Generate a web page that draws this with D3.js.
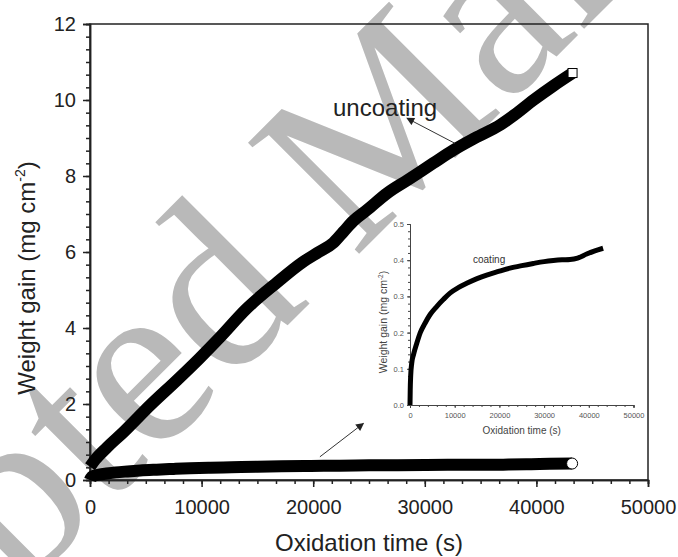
<!DOCTYPE html>
<html>
<head>
<meta charset="utf-8">
<style>
  body { margin: 0; background: #fff; }
  svg { display: block; font-family: "Liberation Sans", Arial, sans-serif; }
</style>
</head>
<body>
<svg width="678" height="557"></svg>
<script src="https://d3js.org/d3.v7.min.js"></script>
<script>

// uncoated sample, weight gain vs oxidation time
var uncoatTime = [0, 450, 1500, 3000, 5400, 7800, 9800, 11660, 14000, 16770, 19000, 20500, 21800,
                  22700, 23600, 24800, 26640, 28500, 30770, 32560, 34500, 36780, 38000, 39740, 41500, 43240];
var uncoatGain = [0.35, 0.53, 0.85, 1.26, 1.97, 2.63, 3.2, 3.76, 4.5, 5.2, 5.72, 6.0, 6.24,
                  6.53, 6.82, 7.1, 7.55, 7.9, 8.34, 8.68, 9.0, 9.35, 9.6, 10.0, 10.37, 10.71];

// coated sample (same data in main plot and inset)
var coatTime = [0, 50, 150, 380, 800, 1500, 2300, 3360, 4500, 5970, 7500, 8950, 10800, 12680,
                15000, 17150, 19800, 22370, 25000, 27590, 30000, 32060, 34000, 35790, 37500, 39530, 41200, 43200];
var coatGain = [0.0, 0.04, 0.08, 0.115, 0.14, 0.17, 0.2, 0.226, 0.25, 0.272, 0.292, 0.309, 0.324, 0.336,
                0.349, 0.359, 0.369, 0.378, 0.385, 0.391, 0.396, 0.399, 0.401, 0.402, 0.406, 0.417, 0.425, 0.433];

var xTicks = [0, 10000, 20000, 30000, 40000, 50000];
var yTicks = [0, 2, 4, 6, 8, 10, 12];
var insetXTicks = [0, 10000, 20000, 30000, 40000, 50000];
var insetYTicks = [0, 0.1, 0.2, 0.3, 0.4, 0.5];

var svg = d3.select("svg"),
    ink = "#222";

var uncoat = uncoatTime.map(function(t, i) { return {t: t, w: uncoatGain[i]}; });
var coat = coatTime.map(function(t, i) { return {t: t, w: coatGain[i]}; });

// watermark, sits behind everything
svg.append("text")
    .attr("transform", "translate(-329,942) rotate(-45)")
    .attr("font-family", "'Liberation Serif', 'Times New Roman', serif")
    .attr("font-size", 240)
    .attr("fill", "#b9b9b9")
    .text("Accepted Manuscript");

// ---- main plot
var x = d3.scaleLinear().domain([0, 50000]).range([90, 648]);
var y = d3.scaleLinear().domain([0, 12]).range([480, 24]);

svg.append("rect")
    .attr("x", x(0)).attr("y", y(12))
    .attr("width", x(50000) - x(0)).attr("height", y(0) - y(12))
    .attr("fill", "none").attr("stroke", ink).attr("stroke-width", 1.5);

function styleAxis(g, size) {
  g.selectAll("path, line").attr("stroke", ink).attr("stroke-width", 1.5);
  g.selectAll("text").attr("fill", ink).attr("font-size", size);
}

svg.append("g")
    .attr("transform", "translate(0," + y(0) + ")")
    .call(d3.axisBottom(x).tickValues(d3.range(0, 50001, 10000 / 6)).tickSize(4).tickFormat(""))
    .call(styleAxis, 20);
svg.append("g")
    .attr("transform", "translate(0," + y(0) + ")")
    .call(d3.axisBottom(x).tickValues(xTicks).tickSize(7).tickPadding(13).tickFormat(d3.format("d")))
    .call(styleAxis, 20);

svg.append("g")
    .attr("transform", "translate(" + x(0) + ",0)")
    .call(d3.axisLeft(y).tickValues(d3.range(0, 12.001, 1 / 3)).tickSize(4).tickFormat(""))
    .call(styleAxis, 20);
svg.append("g")
    .attr("transform", "translate(" + x(0) + ",0)")
    .call(d3.axisLeft(y).tickValues(yTicks).tickSize(7).tickPadding(7).tickFormat(d3.format("d")))
    .call(styleAxis, 20);

svg.append("text")
    .attr("x", (x(0) + x(50000)) / 2).attr("y", 551)
    .attr("text-anchor", "middle").attr("font-size", 24).attr("fill", ink)
    .text("Oxidation time (s)");

var yl = svg.append("text")
    .attr("transform", "translate(35,278) rotate(-90)")
    .attr("text-anchor", "middle").attr("font-size", 24).attr("fill", ink);
yl.append("tspan").text("Weight gain (mg cm");
yl.append("tspan").attr("font-size", 14).attr("dy", -10).text("-2");
yl.append("tspan").attr("dy", 10).text(")");

var line = d3.line()
    .x(function(d) { return x(d.t); })
    .y(function(d) { return y(d.w); })
    .curve(d3.curveMonotoneX);

svg.append("path")
    .datum(uncoat)
    .attr("fill", "none").attr("stroke", "#000")
    .attr("stroke-width", 12).attr("stroke-linejoin", "round")
    .attr("d", line);
svg.append("path")
    .datum(coat)
    .attr("fill", "none").attr("stroke", "#000")
    .attr("stroke-width", 12).attr("stroke-linejoin", "round")
    .attr("d", line);

var lastU = uncoat[uncoat.length - 1], lastC = coat[coat.length - 1];
svg.append("rect")
    .attr("x", x(lastU.t) - 4.5).attr("y", y(lastU.w) - 4.5)
    .attr("width", 9).attr("height", 9)
    .attr("fill", "#fff").attr("stroke", "#000").attr("stroke-width", 1);
svg.append("circle")
    .attr("cx", x(lastC.t)).attr("cy", y(lastC.w)).attr("r", 5.5)
    .attr("fill", "#fff").attr("stroke", "#000").attr("stroke-width", 1);

// annotations
svg.append("defs").append("marker")
    .attr("id", "arrow").attr("viewBox", "0 0 10 10")
    .attr("refX", 9).attr("refY", 5)
    .attr("markerWidth", 10).attr("markerHeight", 8)
    .attr("markerUnits", "userSpaceOnUse")
    .attr("orient", "auto")
  .append("path").attr("d", "M0,0L10,5L0,10z").attr("fill", "#222");

svg.append("line")
    .attr("x1", x(32700)).attr("y1", y(8.86))
    .attr("x2", x(28400)).attr("y2", y(9.52))
    .attr("stroke", "#333").attr("stroke-width", 1)
    .attr("marker-end", "url(#arrow)");
svg.append("line")
    .attr("x1", x(20600)).attr("y1", y(0.61))
    .attr("x2", x(24500)).attr("y2", y(1.49))
    .attr("stroke", "#333").attr("stroke-width", 1)
    .attr("marker-end", "url(#arrow)");

svg.append("text")
    .attr("x", 333).attr("y", 116)
    .attr("font-size", 24).attr("fill", ink)
    .text("uncoating");

// ---- inset
var ix = d3.scaleLinear().domain([0, 50000]).range([410, 633.5]);
var iy = d3.scaleLinear().domain([0, 0.5]).range([405, 224]);

function styleInset(g) {
  g.selectAll("path, line").attr("stroke", "#444").attr("stroke-width", 1);
  g.selectAll("text").attr("fill", "#555").attr("font-size", 7.5);
}

svg.append("g")
    .attr("transform", "translate(0," + iy(0) + ")")
    .call(d3.axisBottom(ix).tickValues(d3.range(0, 50001, 2000)).tickSize(2).tickFormat(""))
    .call(styleInset);
svg.append("g")
    .attr("transform", "translate(0," + iy(0) + ")")
    .call(d3.axisBottom(ix).tickValues(insetXTicks).tickSize(3).tickPadding(5).tickFormat(d3.format("d")))
    .call(styleInset);
svg.append("g")
    .attr("transform", "translate(" + ix(0) + ",0)")
    .call(d3.axisLeft(iy).tickValues(d3.range(0, 0.5001, 0.02)).tickSize(2).tickFormat(""))
    .call(styleInset);
svg.append("g")
    .attr("transform", "translate(" + ix(0) + ",0)")
    .call(d3.axisLeft(iy).tickValues(insetYTicks).tickSize(3).tickPadding(3).tickFormat(d3.format(".1f")))
    .call(styleInset);

svg.append("text")
    .attr("x", (ix(0) + ix(50000)) / 2).attr("y", 434)
    .attr("text-anchor", "middle").attr("font-size", 10).attr("fill", "#444")
    .text("Oxidation time (s)");

var iyl = svg.append("text")
    .attr("transform", "translate(387,322) rotate(-90)")
    .attr("text-anchor", "middle").attr("font-size", 10.5).attr("fill", "#444");
iyl.append("tspan").text("Weight gain (mg cm");
iyl.append("tspan").attr("font-size", 6.5).attr("dy", -4).text("-2");
iyl.append("tspan").attr("dy", 4).text(")");

var iline = d3.line()
    .x(function(d) { return ix(d.t); })
    .y(function(d) { return iy(d.w); })
    .curve(d3.curveMonotoneX);

svg.append("path")
    .datum(coat)
    .attr("fill", "none").attr("stroke", "#000")
    .attr("stroke-width", 5).attr("stroke-linejoin", "round")
    .attr("d", iline);

svg.append("text")
    .attr("x", 473).attr("y", 263)
    .attr("font-size", 10).attr("fill", "#333")
    .text("coating");

</script>
</body>
</html>
